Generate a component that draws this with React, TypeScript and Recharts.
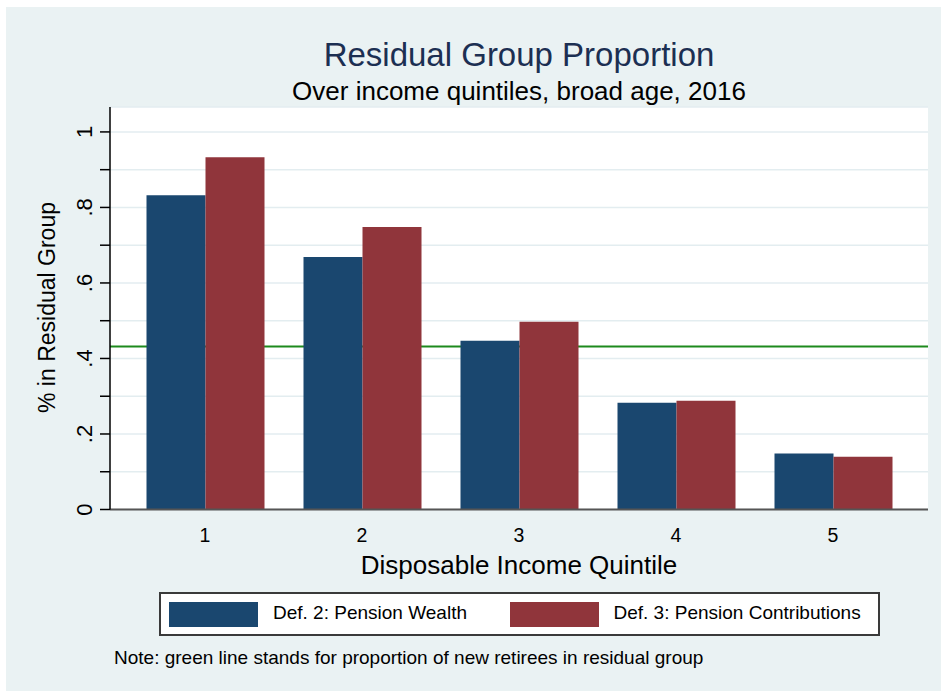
import React from 'react';
import { BarChart, Bar, XAxis, YAxis, CartesianGrid, ReferenceLine, Legend } from 'recharts';

// values
const quintiles = ['1', '2', '3', '4', '5'];
const pensionWealth = [0.832, 0.669, 0.447, 0.283, 0.148];
const pensionContributions = [0.933, 0.748, 0.497, 0.288, 0.14];
const newRetireesShare = 0.432;
const yTicks = [0, 0.1, 0.2, 0.3, 0.4, 0.5, 0.6, 0.7, 0.8, 0.9, 1];
const yTickLabels = ['0', '', '.2', '', '.4', '', '.6', '', '.8', '', '1'];

const data = quintiles.map((q, i) => ({
  q,
  wealth: pensionWealth[i],
  contrib: pensionContributions[i],
}));

const FONT = '"Liberation Sans", Arial, sans-serif';
const NAVY = '#1a476f';
const MAROON = '#90353b';
const BG = '#eaf2f3';

const YTick = (props: any) => {
  const { x, y, index } = props;
  const label = yTickLabels[index];
  if (!label) return null;
  return (
    <text
      x={x}
      y={y}
      transform={`rotate(-90 ${x} ${y})`}
      textAnchor="middle"
      fontSize={22}
      fontFamily={FONT}
      fill="#000"
    >
      {label}
    </text>
  );
};

const XTick = (props: any) => {
  const { x, y, payload } = props;
  return (
    <text x={x} y={y} textAnchor="middle" fontSize={19.5} fontFamily={FONT} fill="#000">
      {payload.value}
    </text>
  );
};

const LegendBox = (props: any) => {
  const items = props.payload || [];
  const slots = [10, 350.5];
  return (
    <div
      style={{
        position: 'relative',
        width: 717,
        height: 40,
        background: '#fff',
        border: '2px solid #3a3a3a',
        fontFamily: FONT,
        fontSize: 19,
        color: '#000',
      }}
    >
      {items.map((it: any, i: number) => (
        <React.Fragment key={it.value}>
          <div
            style={{
              position: 'absolute',
              left: slots[i] - 2,
              top: 7.5,
              width: 89,
              height: 25,
              background: it.color,
            }}
          />
          <div
            style={{
              position: 'absolute',
              left: slots[i] + 102,
              top: 8,
              lineHeight: '22px',
              whiteSpace: 'nowrap',
            }}
          >
            {it.value}
          </div>
        </React.Fragment>
      ))}
    </div>
  );
};

export default function App() {
  return (
    <div style={{ position: 'absolute', left: 0, top: 0, width: 941, height: 691, background: '#fff' }}>
      <div style={{ position: 'absolute', left: 6, top: 7, width: 935, height: 684, background: BG }} />
      <svg width={941} height={691} style={{ position: 'absolute', left: 0, top: 0 }}>
        <text x={519} y={65.5} textAnchor="middle" fontSize={33} fontFamily={FONT} fill="#1c2f52">
          Residual Group Proportion
        </text>
        <text x={519} y={99.5} textAnchor="middle" fontSize={26} fontFamily={FONT} fill="#000">
          Over income quintiles, broad age, 2016
        </text>
        <text x={519} y={573.5} textAnchor="middle" fontSize={26} fontFamily={FONT} fill="#000">
          Disposable Income Quintile
        </text>
        <text
          x={55}
          y={307.5}
          transform="rotate(-90 55 307.5)"
          textAnchor="middle"
          fontSize={23}
          fontFamily={FONT}
          fill="#000"
        >
          % in Residual Group
        </text>
        <text x={114} y={664} fontSize={19} fontFamily={FONT} fill="#000">
          Note: green line stands for proportion of new retirees in residual group
        </text>
      </svg>
      <div style={{ position: 'absolute', left: 0, top: 0 }}>
        <BarChart
          width={941}
          height={691}
          data={data}
          margin={{ top: 107, right: 13, left: 50, bottom: 141.5 }}
          barCategoryGap={20}
          barGap={0}
        >
          <CartesianGrid vertical={false} fill="#fff" stroke="#e3edf0" strokeWidth={1.5} />
          <XAxis
            dataKey="q"
            height={40}
            padding={{ left: 16.5, right: 16.5 }}
            axisLine={{ stroke: '#555', strokeWidth: 2 }}
            tickLine={false}
            tickSize={0}
            tick={<XTick />}
            tickMargin={32}
          />
          <YAxis
            type="number"
            width={60}
            domain={[0, 1.066]}
            ticks={yTicks}
            interval={0}
            tickSize={10}
            tickMargin={8}
            axisLine={{ stroke: '#000', strokeWidth: 1.5 }}
            tickLine={{ stroke: '#000', strokeWidth: 1.5 }}
            tick={<YTick />}
          />
          <ReferenceLine y={newRetireesShare} stroke="#1d8a1d" strokeWidth={2} zIndex={-10} />
          <Bar dataKey="wealth" name="Def. 2: Pension Wealth" fill={NAVY} isAnimationActive={false} />
          <Bar dataKey="contrib" name="Def. 3: Pension Contributions" fill={MAROON} isAnimationActive={false} />
          <Legend
            layout="horizontal"
            verticalAlign="middle"
            align="center"
            content={<LegendBox />}
            wrapperStyle={{ position: 'absolute', left: 159, top: 592, width: 721, height: 44 }}
          />
        </BarChart>
      </div>
    </div>
  );
}
